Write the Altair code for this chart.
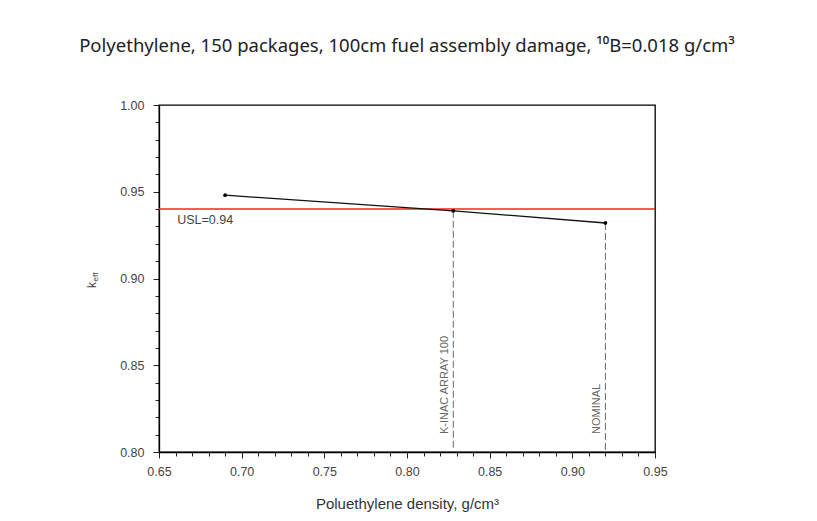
import altair as alt
import pandas as pd

# Data
density = [0.69, 0.828, 0.92]
keff = [0.948, 0.939, 0.932]
case_labels = ["", "K-INAC ARRAY 100", "NOMINAL"]
usl_value = 0.94
usl_label = "USL=0.94"
x_ticks = [round(0.65 + 0.01 * i, 2) for i in range(31)]
y_ticks = [round(0.80 + 0.01 * i, 2) for i in range(21)]

df = pd.DataFrame({"x": density, "y": keff, "label": case_labels, "y0": [0.80] * 3})
usl_df = pd.DataFrame({"y": [usl_value], "label": [usl_label], "x": [0.661]})

FONT = "Liberation Sans"
xscale = alt.Scale(domain=[0.65, 0.95], nice=False, zero=False)
yscale = alt.Scale(domain=[0.80, 1.00], nice=False, zero=False)

major_test = "abs(round(datum.value*100) % 5) < 0.5"

xaxis = alt.Axis(
    values=x_ticks, orient="bottom", title="Poluethylene density, g/cm³",
    labelExpr=f"({major_test}) ? format(datum.value, '.2f') : ''",
    tickSize={"condition": {"test": major_test, "value": 6}, "value": 4},
    labelOverlap=False,
    grid=False, domainColor="black", tickColor="#222", labelColor="#444",
    domainWidth=1.3,
    labelFontSize=12.5, titleFontSize=15, titleFontWeight="normal",
    labelPadding=7, titlePadding=19, labelFont=FONT, titleFont=FONT,
    labelFlush=False, titleColor="#333",
)
yaxis = alt.Axis(
    values=y_ticks, orient="left", title=None,
    labelExpr=f"({major_test}) ? format(datum.value, '.2f') : ''",
    tickSize={"condition": {"test": major_test, "value": 6}, "value": 4},
    labelOverlap=False, domainWidth=1.3,
    grid=False, domainColor="black", tickColor="#222", labelColor="#444",
    labelFontSize=12.5, labelPadding=9, labelFont=FONT, labelFlush=False,
)

base = alt.Chart(df)

drops = base.transform_filter("datum.label != ''").mark_rule(
    color="#666", strokeDash=[7, 3], strokeWidth=1
).encode(
    x=alt.X("x:Q", scale=xscale, axis=xaxis),
    y=alt.Y("y:Q", scale=yscale, axis=yaxis),
    y2="y0:Q",
)

line = base.mark_line(color="#111", strokeWidth=1.3).encode(
    x=alt.X("x:Q", scale=xscale, axis=xaxis),
    y=alt.Y("y:Q", scale=yscale, axis=yaxis),
)
pts = base.mark_point(filled=True, color="black", size=14, opacity=1).encode(
    x=alt.X("x:Q", scale=xscale, axis=xaxis),
    y=alt.Y("y:Q", scale=yscale, axis=yaxis),
)

usl = alt.Chart(usl_df).mark_rule(color="#ff2020", strokeWidth=1.5).encode(
    y=alt.Y("y:Q", scale=yscale, axis=yaxis)
)
usl_text = alt.Chart(usl_df).mark_text(
    align="left", baseline="top", dy=5, fontSize=12.5, font=FONT, color="#444"
).encode(
    x=alt.X("x:Q", scale=xscale, axis=xaxis),
    y=alt.Y("y:Q", scale=yscale, axis=yaxis),
    text="label:N",
)

case_text = base.transform_filter("datum.label != ''").mark_text(
    angle=270, align="left", baseline="bottom", dx=18, dy=-3,
    fontSize=11, font=FONT, color="#666"
).encode(
    x=alt.X("x:Q", scale=xscale, axis=xaxis),
    y=alt.Y("y0:Q", scale=yscale, axis=yaxis),
    text="label:N",
)

ytitle_k = alt.Chart(usl_df).mark_text(
    angle=270, align="center", baseline="middle", fontSize=12, font=FONT, color="#444"
).encode(x=alt.value(-67), y=alt.value(180), text=alt.value("k"))
ytitle_eff = alt.Chart(usl_df).mark_text(
    angle=270, align="center", baseline="middle", fontSize=8, font=FONT, color="#444"
).encode(x=alt.value(-63), y=alt.value(172), text=alt.value("eff"))

chart = alt.layer(
    drops, usl, line, pts, usl_text, case_text, ytitle_k, ytitle_eff
).properties(
    width=496, height=347,
    title=alt.TitleParams(
        "Polyethylene, 150 packages, 100cm fuel assembly damage, ¹⁰B=0.018 g/cm³",
        fontSize=18.5, font="Noto Sans", fontWeight="normal", color="#222",
        anchor="middle", offset=44,
    ),
    autosize=alt.AutoSizeParams(type="none"),
    padding={"left": 159, "top": 105, "right": 162, "bottom": 69},
    background="white",
).configure_view(stroke="black", strokeWidth=1.3)

chart.save("out.html", embed_options={"renderer": "svg", "actions": False})
